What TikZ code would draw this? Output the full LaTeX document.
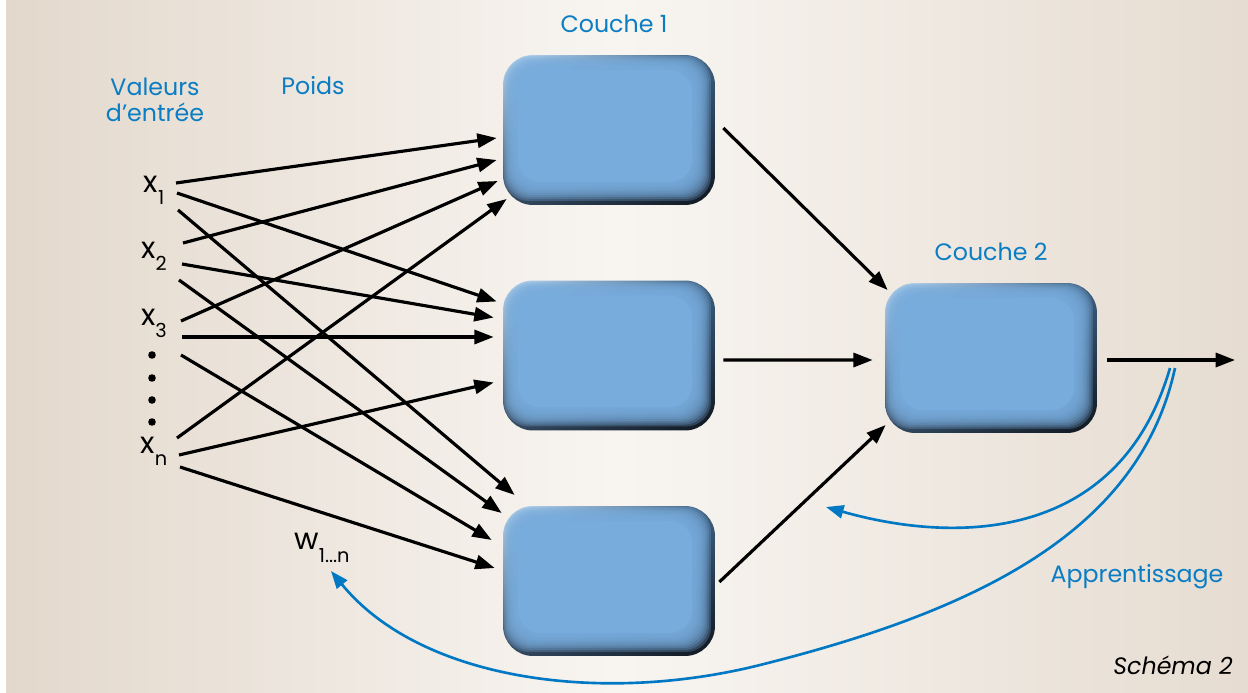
\documentclass[tikz,border=0pt]{standalone}
\usepackage{fontspec}
\setmainfont{Poppins}
\usetikzlibrary{calc,arrows.meta,shadings}
\definecolor{txtblue}{RGB}{10,125,195}
\definecolor{curveblue}{RGB}{0,120,195}
\definecolor{boxblue}{RGB}{120,172,221}
\definecolor{boxlight}{RGB}{190,220,245}
\definecolor{boxmidR}{RGB}{60,95,130}
\definecolor{boxmidL}{RGB}{50,72,96}
\definecolor{boxdark}{RGB}{15,22,30}
\definecolor{bgtan}{RGB}{227,216,204}
\definecolor{bgwhite}{RGB}{248,245,241}
\definecolor{bgtanR}{RGB}{230,220,209}
\tikzset{
  neuron/.style={minimum width=4.24cm, minimum height=3cm, rounded corners=0.6cm, inner sep=0pt,
    path picture={
      \shade[upper left=boxlight, upper right=boxmidR, lower left=boxmidL, lower right=boxdark]
        (path picture bounding box.south west) rectangle (path picture bounding box.north east);
      \foreach \k in {0,...,9}{
        \fill[boxblue, opacity=0.28, rounded corners=0.5cm]
          ($(path picture bounding box.north west)+(1.4*\k+1,1.4*\k+1)$) rectangle
          ($(path picture bounding box.south east)+(-1.9*\k-4,-1.9*\k-4)$);
      }
      \fill[boxblue, rounded corners=0.45cm]
          ($(path picture bounding box.north west)+(15,15)$) rectangle
          ($(path picture bounding box.south east)+(-23,-23)$);
    }},
  lbl/.style={text=txtblue, font=\fontsize{13.5}{16}\selectfont, inner sep=0pt, align=center},
  inp/.style={font=\fontsize{17}{18}\selectfont, inner sep=0pt},
  conn/.style={line width=1.8pt, -{Triangle[length=11pt,width=8pt]}},
  learn/.style={line width=1.5pt, curveblue, -{Triangle[length=10pt,width=7.5pt]}},
}
\newcommand{\subx}[1]{\raisebox{-0.75ex}{\fontsize{11}{11}\selectfont #1}}
\begin{document}
\begin{tikzpicture}[x=0.02cm,y=-0.02cm]
\useasboundingbox (0,0) rectangle (1248,693);
\fill[white] (0,0) rectangle (1248,693);
\shade[left color=bgtan, right color=bgwhite] (6,0) rectangle (620,693);
\shade[left color=bgwhite, right color=bgtanR] (619,0) rectangle (1248,693);

% boxes
\node[neuron] (b1) at (609,130) {};
\node[neuron] (b2) at (609,355.5) {};
\node[neuron] (b3) at (609,581) {};
\node[neuron] (b4) at (991,358) {};

% labels
\node[lbl] (c1) at (614,24) {Couche 1};
\node[lbl] (c2) at (991,252) {Couche 2};
\node[lbl] (val) at (155,100) {Valeurs\\[-1pt]d'entrée};
\node[lbl] (poids) at (313,86) {Poids};
\node[lbl] (app) at (1137,577) {Apprentissage};
\node[font=\fontsize{13.5}{15}\selectfont\itshape, inner sep=0pt] (sch) at (1173,665) {Schéma 2};

% inputs
\node[inp] (x1) at (154,190) {x\subx{1}};
\node[inp] (x2) at (154,256) {x\subx{2}};
\node[inp] (x3) at (154,323) {x\subx{3}};
\node[inp] (xn) at (154,451) {x\subx{n}};
\node[inp] (w) at (322,548) {w\subx{1...n}};
\foreach \yy in {355,378,400,422} \fill (152,\yy) circle (3.8);

% start points
\coordinate (x1a) at (176,183);
\coordinate (x1b) at (177,193);
\coordinate (x1c) at (178,210);
\coordinate (x2a) at (183,243);
\coordinate (x2b) at (182,264);
\coordinate (x2c) at (179,280);
\coordinate (x3a) at (181,321);
\coordinate (x3b) at (182,337);
\coordinate (x3c) at (181,355);
\coordinate (xna) at (177,438);
\coordinate (xnb) at (179,455);
\coordinate (xnc) at (180,467);

% weights
\draw[conn] (x1a) -- ($(b1.west)+(-6,8)$);
\draw[conn] (x2a) -- ($(b1.west)+(-6,30)$);
\draw[conn] (x3a) -- ($(b1.west)+(-5,51)$);
\draw[conn] (xna) -- ($(b1.west)+(4,69)$);
\draw[conn] (x1b) -- ($(b2.west)+(-6,-54)$);
\draw[conn] (x2b) -- ($(b2.west)+(-9,-38)$);
\draw[conn] (x3b) -- ($(b2.west)+(-9,-18.5)$);
\draw[conn] (xnb) -- ($(b2.west)+(-9,27)$);
\draw[conn] (x1c) -- ($(b3.west)+(12,-86)$);
\draw[conn] (x2c) -- ($(b3.west)+(-1,-68)$);
\draw[conn] (x3c) -- ($(b3.west)+(-11,-41)$);
\draw[conn] (xnc) -- ($(b3.west)+(-8,-13)$);

% layer 1 -> layer 2
\draw[conn] ($(b1.east)+(8,-2)$) -- ($(b4.west)+(3,-68)$);
\draw[conn] ($(b2.east)+(8,4.5)$) -- ($(b4.west)+(-12,2)$);
\draw[conn] ($(b3.east)+(4,1)$) -- ($(b4.west)+(1,67)$);
\coordinate (out) at (1235,360);
\draw[conn] ($(b4.east)+(10,2)$) -- (out);

% learning curves
\coordinate (la) at (1170,368);
\coordinate (lb) at (1175,368);
\coordinate (laend) at (826,507);
\coordinate (lbend) at (331,571);
\draw[learn] (la) .. controls (1120,540) and (960,545) .. (laend);
\draw[learn] (lb) .. controls (1140,530) and (980,610) .. (760,665) .. controls (600,705) and (420,680) .. (lbend);
\end{tikzpicture}
\end{document}
